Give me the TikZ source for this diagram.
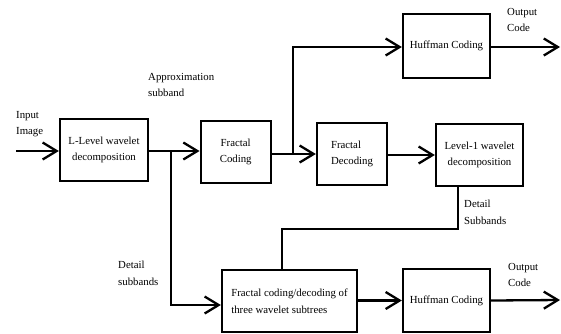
\documentclass[tikz,border=0pt]{standalone}
\usepackage{fontspec}
\setmainfont{Liberation Serif}
\usetikzlibrary{arrows.meta}
\begin{document}
\begin{tikzpicture}[x=1pt,y=-1pt,
  txt/.style={font=\fontsize{10.8}{16.5}\selectfont},
  blk/.style={draw,line width=2.3pt,txt,inner sep=2pt},
  lbl/.style={txt,align=left,anchor=north west,inner sep=0pt},
  conn/.style={line width=2.3pt},
  arr/.style={conn,-{Straight Barb[length=14pt,width=17pt,line width=2.3pt]}}]
\useasboundingbox (0,0) rectangle (561,333);
% blocks
\node[blk,minimum width=88pt,minimum height=62pt,align=center] (LL) at (104,150) {L-Level wavelet\\decomposition};
\node[blk,minimum width=70pt,minimum height=62pt,align=center] (FC) at (235.7,152) {Fractal\\Coding};
\node[blk,minimum width=70pt,minimum height=62pt,align=left] (FD) at (352,154) {Fractal\\Decoding};
\node[blk,minimum width=87pt,minimum height=62pt,align=center] (L1) at (479.5,155) {Level-1 wavelet\\decomposition};
\node[blk,minimum width=87pt,minimum height=64pt,align=center] (H1) at (446.5,46) {Huffman Coding};
\node[blk,minimum width=135pt,minimum height=62pt,align=left] (FCD) at (289.5,301) {Fractal coding/decoding of\\three wavelet subtrees};
\node[blk,minimum width=87pt,minimum height=63pt,align=center] (H2) at (446.5,300.5) {Huffman Coding};
% labels
\node[lbl] (tin) at (16,111) {Input\\Image};
\node[lbl] (tapp) at (148,73) {Approximation\\subband};
\node[lbl] (tdet) at (118,261) {Detail\\subbands};
\node[lbl] (tdet2) at (464,200) {Detail\\Subbands};
\node[lbl] (tout1) at (507,8) {Output\\Code};
\node[lbl] (tout2) at (508,263) {Output\\Code};
% coordinates
\coordinate (in) at (16,151);
\coordinate (b1) at (171,151);
\coordinate (b1d) at (171,305);
\coordinate (b2) at (293,154);
\coordinate (b2u) at (293,47);
\coordinate (o1) at (560,47);
\coordinate (o2) at (560,300);
\coordinate (d1) at (458,229);
\coordinate (d2) at (282,229);
% connectors
\draw[arr] (in) -- (in -| LL.west);
\draw[arr] (LL.east |- b1) -- (b1 -| FC.west);
\draw[arr] (b1) -- (b1d) -- (b1d -| FCD.west);
\draw[arr] (FC.east |- b2) -- (b2 -| FD.west);
\draw[arr] (b2) -- (b2u) -- (b2u -| H1.west);
\draw[arr] (H1.east |- b2u) -- (o1);
\draw[arr] (FD.east |- 0,155) -- (L1.west |- 0,155);
\draw[conn] (d1 |- L1.south) -- (d1) -- (d2) -- (d2 |- FCD.north);
\draw[arr] (FCD.east |- H2.west) -- (H2.west);
\draw[arr] (H2.east) -- (o2);
\end{tikzpicture}
\end{document}
